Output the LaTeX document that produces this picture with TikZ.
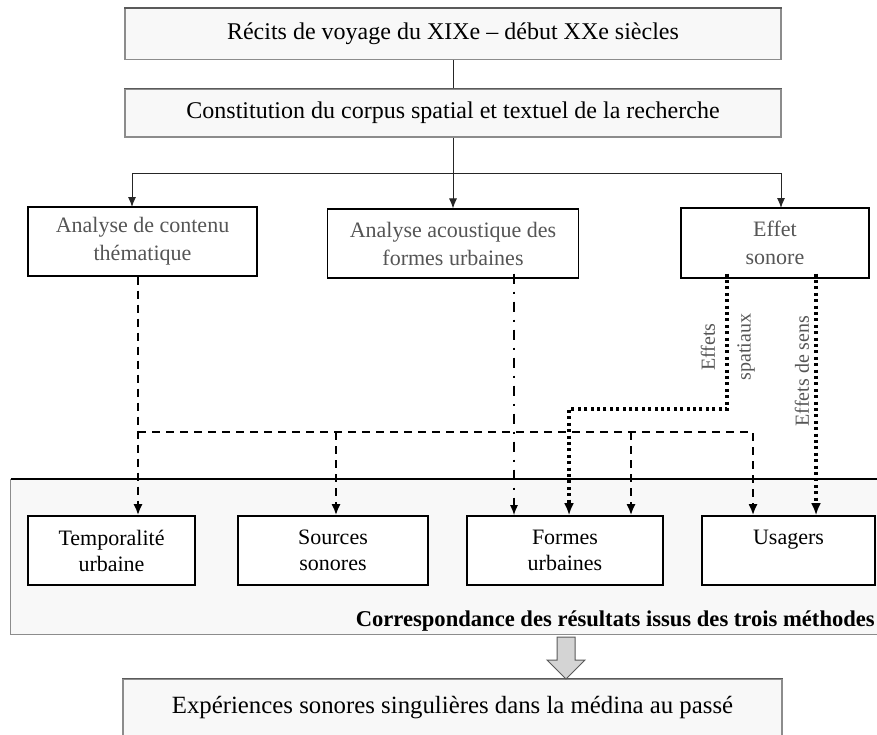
\documentclass[tikz,border=0pt]{standalone}
\usepackage{fontspec}
\setmainfont{Liberation Serif}
\usetikzlibrary{arrows.meta}
\definecolor{boxgray}{HTML}{8C8C8C}
\definecolor{darkedge}{HTML}{5A5A5A}
\definecolor{lightfill}{HTML}{F8F8F8}
\definecolor{midtext}{HTML}{555555}
\definecolor{blockfill}{HTML}{D4D4D4}
\begin{document}
\begin{tikzpicture}[x=1pt,y=-1pt,
  topbox/.style={draw=boxgray, line width=1.2pt, fill=lightfill, inner sep=0pt,
    font=\fontsize{24}{28}\selectfont},
  midbox/.style={draw=black, line width=1.1pt, fill=white, inner sep=0pt, align=center,
    text=midtext, minimum height=69pt, font=\fontsize{22}{28}\selectfont},
  resbox/.style={draw=black, line width=1.6pt, fill=white, inner sep=0pt, align=center,
    minimum height=69pt, font=\fontsize{22}{26}\selectfont},
  solidln/.style={draw=black!85, line width=1pt},
  solidarr/.style={solidln, -{Latex[length=10pt,width=8pt]}},
  dsh/.style={line width=2pt, dash pattern=on 8pt off 6pt, -{Latex[length=11pt,width=9pt]}},
  dashdotln/.style={line width=1.5pt, dash pattern=on 10pt off 8pt on 2pt off 8pt, -{Latex[length=10pt,width=8pt]}},
  dotln/.style={line width=3.2pt, dash pattern=on 3pt off 3.4pt, -{Latex[length=12pt,width=10pt]}},
  sidelabel/.style={rotate=90, text=midtext, inner sep=0pt, font=\fontsize{20}{24}\selectfont},
]
\useasboundingbox (0,0) rectangle (877,734);
\fill[white] (0,0) rectangle (877,734);

% top boxes
\node[topbox, minimum width=656pt, minimum height=51pt] (b1) at (453,34) {Récits de voyage du XIXe – début XXe siècles};
\node[topbox, minimum width=656pt, minimum height=48pt] (b2) at (453,113) {Constitution du corpus spatial et textuel de la recherche};
\draw[darkedge, line width=1.6pt] (b1.north west) -- (b1.north east);
\draw[darkedge, line width=1.6pt] (b2.north west) -- (b2.north east);

% analysis boxes
\node[midbox, minimum width=229pt] (anA) at (142.5,241.5) {Analyse de contenu\\thématique};
\node[midbox, minimum width=251pt] (anB) at (453,243.5) {Analyse acoustique des\\formes urbaines};
\node[midbox, minimum width=188pt, minimum height=70pt] (anC) at (775,243) {Effet\\sonore};

% top connectors
\coordinate (split) at (453,173);
\coordinate (tipA) at (132,207);
\coordinate (tipC) at (781,208);
\draw[solidln] (b1) -- (b2);
\draw[solidln] (b2) -- (split);
\draw[solidarr] (split) -| (tipA);
\draw[solidarr] (split) -| (tipC);
\draw[solidarr] (split) -- (anB);

% results frame
\node[fill=lightfill, inner sep=0pt, minimum width=872pt, minimum height=155pt] (frame) at (447,556.5) {};
\draw[line width=2.2pt] (frame.north west) -- (frame.north east);
\draw[boxgray, line width=1.2pt] (frame.north west) -- (frame.south west) -- (frame.south east);

\node[resbox, minimum width=167pt] (tem) at (111.5,550.5) {Temporalité\\urbaine};
\node[resbox, minimum width=190pt] (src) at (333,550.5) {Sources\\sonores};
\node[resbox, minimum width=196pt] (frm) at (565,550.5) {Formes\\urbaines};
\node[resbox, minimum width=173pt] (usa) at (788.5,550.5) {Usagers\\\mbox{}};

\node[anchor=east, inner sep=0pt, font=\bfseries\fontsize{22.6}{26}\selectfont] (corr) at (875,621) {Correspondance des résultats issus des trois méthodes};

% dashed connectors (thematic analysis)
\coordinate (jA) at (138,432);
\coordinate (jS) at (336,432);
\coordinate (jF) at (631,432);
\coordinate (jU) at (753,432);
\draw[dsh] (anA.south -| jA) -- (tem.north -| jA);
\draw[dsh] (jA) -| (usa.north -| jU);
\draw[dsh] (jS) -- (src.north -| jS);
\draw[dsh] (jF) -- (frm.north -| jF);

% dash-dot connector (acoustic analysis)
\coordinate (xB) at (514,432);
\draw[dashdotln] ([yshift=5pt]anB.south -| xB) -- (frm.north -| xB);

% dotted connectors (sound effect)
\coordinate (k1) at (727,409);
\coordinate (k2) at (569,409);
\coordinate (xS) at (816,432);
\draw[dotln] ([yshift=5pt]anC.south -| k1) -- (k1) -- (k2) -- (frm.north -| k2);
\draw[dotln] ([yshift=5pt]anC.south -| xS) -- (usa.north -| xS);

\node[sidelabel] (lab1) at (708,347) {Effets};
\node[sidelabel] (lab2) at (746,347) {spatiaux};
\node[sidelabel] (lab3) at (802,371) {Effets de sens};

% final box and block arrow
\node[topbox, minimum width=659pt, minimum height=58pt, font=\fontsize{24.8}{28}\selectfont] (exp) at (452.5,708) {Expériences sonores singulières dans la médina au passé};
\draw[darkedge, line width=1.6pt] (exp.north west) -- (exp.north east);
\draw[fill=blockfill, draw=darkedge, line width=1pt]
  (557,637) -- (575,637) -- (575,660) -- (585,660) -- (566,679) -- (547,660) -- (557,660) -- cycle;
\end{tikzpicture}
\end{document}
